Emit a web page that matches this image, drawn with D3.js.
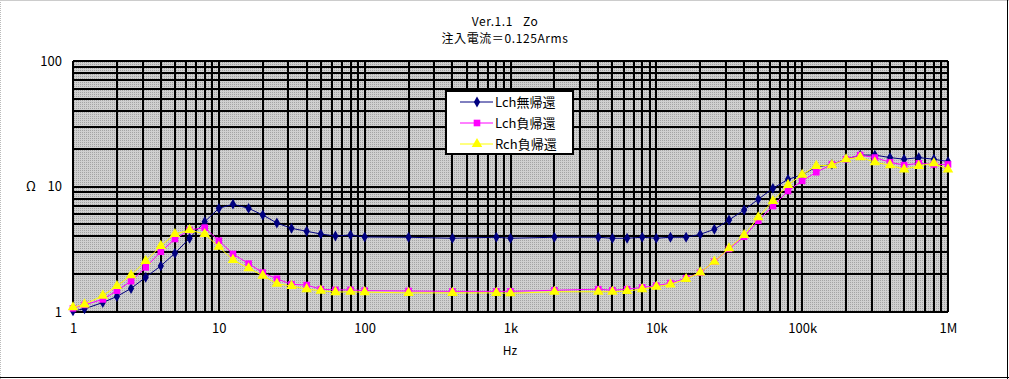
<!DOCTYPE html>
<html><head><meta charset="utf-8">
<script src="https://cdn.jsdelivr.net/npm/d3@7"></script>
<style>
html,body{margin:0;padding:0;background:#fff;}
svg{display:block;}
text{font-family:"Noto Sans CJK JP","DejaVu Sans",sans-serif;fill:#000;}
</style></head><body>
<svg id="c" width="1009" height="379"></svg>
<script>
const freqs = [1,1.2,1.6,2,2.5,3.15,4,5,6.3,8,10,12.5,16,20,25,31.5,40,50,63,80,100,
  200,400,800,1000,2000,4000,5000,6300,8000,
  10000,12500,16000,20000,25000,31500,40000,50000,63000,80000,100000,
  125000,160000,200000,250000,315000,400000,500000,630000,800000,1000000];
const lchNoFb = [1.02,1.06,1.19,1.33,1.54,1.89,2.33,2.94,3.87,5.24,6.7,7.23,6.7,5.93,5.12,4.64,4.40,4.18,4.03,4.11,3.96,
  3.94,3.87,3.94,3.87,3.94,3.94,3.87,3.87,3.94,
  3.87,3.94,3.94,4.16,4.56,5.41,6.50,7.91,9.67,11.4,12.4,
  14.3,15.0,16.5,17.8,17.8,17.0,16.5,17.0,16.5,15.8];
const lchFb = [1.07,1.14,1.26,1.48,1.76,2.27,3.02,3.82,4.50,4.70,3.70,2.90,2.43,2.06,1.84,1.66,1.64,1.52,1.50,1.50,1.48,
  1.47,1.46,1.46,1.46,1.49,1.52,1.49,1.52,1.57,
  1.62,1.70,1.86,2.06,2.52,3.18,3.98,5.34,6.99,9.21,11.1,
  13.0,15.0,16.5,17.8,17.0,15.6,14.8,15.3,15.0,15.0];
const rchFb = [1.09,1.15,1.35,1.61,1.96,2.55,3.36,4.18,4.50,4.18,3.31,2.60,2.23,1.95,1.68,1.61,1.52,1.48,1.44,1.45,1.44,
  1.42,1.42,1.42,1.41,1.45,1.45,1.45,1.47,1.52,
  1.59,1.66,1.83,2.07,2.52,3.22,4.11,5.68,7.66,10.3,12.4,
  14.6,14.8,16.5,17.1,15.6,14.8,13.7,14.6,15.3,13.7];
const seriesNames = ["Lch無帰還","Lch負帰還","Rch負帰還"];
const xTickVals = [1,10,100,1000,10000,100000,1000000];
const xTickLabels = ["1","10","100","1k","10k","100k","1M"];
const yTickVals = [1,10,100];
const yTickLabels = ["1","10","100"];
const titleLines = ["Ver.1.1   Zo","注入電流＝0.125Arms"];

const svg = d3.select("#c");
const L=73, R=948, T=61, B=312;
const x = d3.scaleLog().domain([1,1e6]).range([L,R]);
const y = d3.scaleLog().domain([1,100]).range([B,T]);

// frame
svg.append("line").attr("x1",0.5).attr("y1",0).attr("x2",0.5).attr("y2",379).attr("stroke","#bbb").attr("stroke-dasharray","1,1");
svg.append("line").attr("x1",0).attr("y1",0.5).attr("x2",1009).attr("y2",0.5).attr("stroke","#ccc");
svg.append("line").attr("x1",1007.5).attr("y1",0).attr("x2",1007.5).attr("y2",379).attr("stroke","#000");
svg.append("line").attr("x1",0).attr("y1",377.5).attr("x2",1009).attr("y2",377.5).attr("stroke","#000");

// pattern background
const defs = svg.append("defs");
const pat = defs.append("pattern").attr("id","dots").attr("width",2).attr("height",2).attr("patternUnits","userSpaceOnUse");
pat.append("rect").attr("width",2).attr("height",2).attr("fill","#d0d0d0");
pat.append("rect").attr("width",1).attr("height",1).attr("fill","#a4a4a4");
svg.append("rect").attr("x",L).attr("y",T).attr("width",R-L).attr("height",B-T).attr("fill","url(#dots)");

// grid
const gx=[]; for(let e=0;e<6;e++) for(let k=1;k<=9;k++) gx.push(k*Math.pow(10,e)); gx.push(1e6);
const gy=[]; for(let e=0;e<2;e++) for(let k=1;k<=9;k++) gy.push(k*Math.pow(10,e)); gy.push(100);
const grid = svg.append("g").attr("shape-rendering","crispEdges");
grid.selectAll(".gx").data(gx).join("line").attr("x1",d=>Math.round(x(d))).attr("x2",d=>Math.round(x(d)))
  .attr("y1",T).attr("y2",B).attr("stroke","#000").attr("stroke-width",2);
grid.selectAll(".gy").data(gy).join("line").attr("y1",d=>Math.round(y(d))).attr("y2",d=>Math.round(y(d)))
  .attr("x1",L).attr("x2",R).attr("stroke","#000").attr("stroke-width",2);

// axes labels (using d3 axes for positions)
const xAxis = d3.axisBottom(x).tickValues(xTickVals).tickFormat((d,i)=>xTickLabels[i]).tickSize(0).tickPadding(12);
const gxa = svg.append("g").attr("transform",`translate(0,${B})`).call(xAxis);
gxa.select(".domain").remove();
gxa.selectAll("text").attr("font-size",13).attr("font-family",'"Noto Sans CJK JP",sans-serif').attr("fill","#000");
const yAxis = d3.axisLeft(y).tickValues(yTickVals).tickFormat((d,i)=>yTickLabels[i]).tickSize(0).tickPadding(11);
const gya = svg.append("g").attr("transform",`translate(${L},0)`).call(yAxis);
gya.select(".domain").remove();
gya.selectAll("text").attr("font-size",13).attr("font-family",'"Noto Sans CJK JP",sans-serif').attr("fill","#000");

svg.append("text").attr("x",31).attr("y",191).attr("text-anchor","middle").attr("font-size",13).text("Ω");
svg.append("text").attr("x",510).attr("y",355).attr("text-anchor","middle").attr("font-size",12).text("Hz");

// title
svg.selectAll(".title").data(titleLines).join("text").attr("x",505).attr("y",(d,i)=>26+i*17)
  .attr("text-anchor","middle").attr("font-size",12).attr("letter-spacing","0.6")
  .style("white-space","pre").attr("xml:space","preserve").text(d=>d);

// series
const series = [
  {name:seriesNames[0], vals:lchNoFb, color:"#000080", sym:d3.symbolDiamond, size:34},
  {name:seriesNames[1], vals:lchFb, color:"#ff00ff", sym:d3.symbolSquare, size:44},
  {name:seriesNames[2], vals:rchFb, color:"#ffff00", sym:d3.symbolTriangle, size:48}
];
const line = d3.line().x(d=>x(d[0])).y(d=>y(d[1]));
series.forEach(s=>{
  const pts = freqs.map((f,i)=>[f,s.vals[i]]);
  const g = svg.append("g");
  g.append("path").datum(pts).attr("d",line).attr("fill","none").attr("stroke",s.color).attr("stroke-width",1);
  g.selectAll("path.m").data(pts).join("path").attr("class","m")
    .attr("transform",d=>`translate(${x(d[0])},${y(d[1])})`)
    .attr("d",d3.symbol().type(s.sym).size(s.size)).attr("fill",s.color);
});

// legend
const lg = svg.append("g");
lg.append("rect").attr("x",446).attr("y",91).attr("width",127).attr("height",63).attr("fill","#fff").attr("stroke","#000").attr("stroke-width",2);
series.forEach((s,i)=>{
  const yy = 102 + i*21;
  lg.append("line").attr("x1",460).attr("x2",493).attr("y1",yy).attr("y2",yy).attr("stroke",s.color).attr("stroke-width",1);
  lg.append("path").attr("transform",`translate(477,${yy})`).attr("d",d3.symbol().type(s.sym).size(s.size)).attr("fill",s.color);
  lg.append("text").attr("x",495).attr("y",yy+5).attr("font-size",13).text(s.name);
});
</script>
</body></html>
